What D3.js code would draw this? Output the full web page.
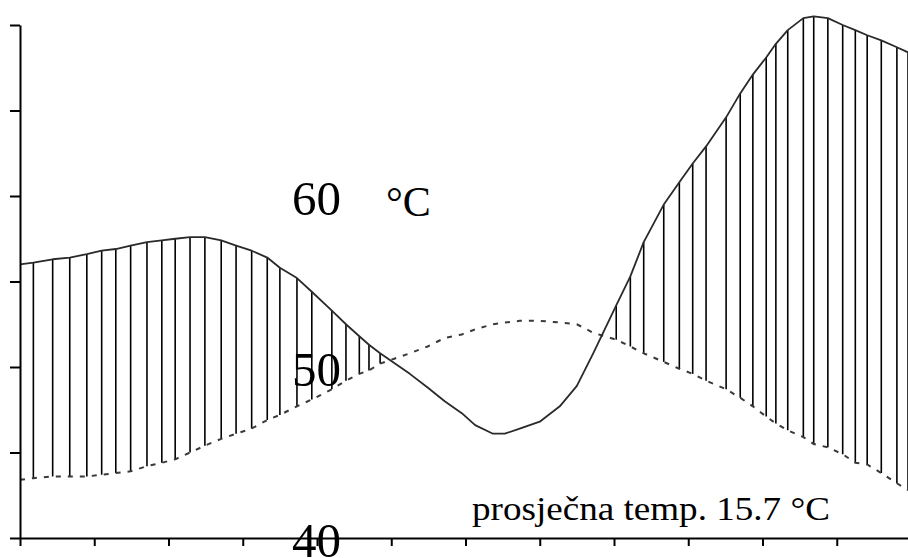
<!DOCTYPE html>
<html>
<head>
<meta charset="utf-8">
<script src="https://cdn.jsdelivr.net/npm/d3@7"></script>
<style>
    body { margin: 0; background: #fff; }
    svg { display: block; }
    .axis path, .axis line { stroke: #000; stroke-width: 2; }
    .serif { font-family: "Liberation Serif", "Times New Roman", serif; fill: #000; }
</style>
</head>
<body>
<div id="TempChart"></div>
<script>
// x positions in months (0 = start of year, 12 = end)
var mjeseci = [0.00, 0.18, 0.44, 0.67, 0.90, 1.10, 1.29, 1.49, 1.71, 1.91,
    2.09, 2.29, 2.49, 2.71, 2.91, 3.12, 3.33, 3.50, 3.73, 3.93,
    4.20, 4.39, 4.57, 4.70, 4.85, 5.05, 5.25, 5.49, 5.72, 5.95,
    6.13, 6.37, 6.53, 6.73, 7.00, 7.27, 7.50, 7.72, 8.03, 8.22,
    8.40, 8.67, 8.88, 9.06, 9.24, 9.51, 9.70, 9.87, 10.05, 10.18,
    10.34, 10.55, 10.69, 10.88, 11.08, 11.25, 11.41, 11.60, 11.81, 11.96];

// measured temperature (solid line)
var temperatura = [56.0, 56.1, 56.3, 56.4, 56.6, 56.8, 56.9, 57.1, 57.3, 57.4,
    57.5, 57.6, 57.6, 57.4, 57.1, 56.8, 56.4, 55.8, 55.2, 54.4,
    53.3, 52.5, 51.8, 51.3, 50.8, 50.2, 49.6, 48.8, 48.0, 47.3,
    46.6, 46.1, 46.1, 46.4, 46.8, 47.7, 48.9, 50.8, 53.6, 55.3,
    57.3, 59.5, 60.8, 61.9, 62.9, 64.6, 66.0, 67.1, 68.1, 68.9,
    69.7, 70.4, 70.5, 70.4, 70.0, 69.7, 69.4, 69.1, 68.7, 68.4];

// average temperature (dashed line)
var prosjek = [43.4, 43.5, 43.6, 43.6, 43.6, 43.7, 43.8, 43.9, 44.2, 44.4,
    44.6, 45.0, 45.4, 45.8, 46.1, 46.4, 46.9, 47.2, 47.7, 48.1,
    48.7, 49.2, 49.6, 49.8, 50.2, 50.5, 50.8, 51.2, 51.7, 51.9,
    52.2, 52.5, 52.6, 52.7, 52.7, 52.6, 52.5, 52.0, 51.6, 51.2,
    50.8, 50.3, 49.9, 49.6, 49.2, 48.7, 48.2, 47.7, 47.1, 46.7,
    46.3, 45.9, 45.5, 45.3, 44.9, 44.4, 44.3, 43.8, 43.2, 42.8];

var yTicks = [40, 45, 50, 55, 60, 65, 70];
var xTicks = [0, 1, 2, 3, 4, 5, 6, 7, 8, 9, 10, 11, 12];
var yOznake = [60, 50, 40];
var jedinica = "°C";
var napomena = "prosječna temp. 15.7 °C";

var width = 908,
    height = 558;

var svg = d3.select("#TempChart")
    .append("svg")
    .attr("width", width)
    .attr("height", height);

// Set the ranges
var x = d3.scaleLinear().domain([0, 12]).range([20, 911]);
var y = d3.scaleLinear().domain([40, 70]).range([538, 25]);

// Hatching between the two lines where the temperature is above average
var hatch = [];
for (var i = 1; i < mjeseci.length; i++) {
    if (temperatura[i] > prosjek[i]) {
        hatch.push({ m: mjeseci[i], t: temperatura[i], p: prosjek[i] });
    }
}

svg.append("g")
    .selectAll("line")
    .data(hatch)
    .enter()
    .append("line")
    .attr("x1", function (d) { return x(d.m); })
    .attr("x2", function (d) { return x(d.m); })
    .attr("y1", function (d) { return y(d.t); })
    .attr("y2", function (d) { return y(d.p); })
    .attr("stroke", "#000")
    .attr("stroke-width", 1.6);

// Define the lines
var tempLine = d3.line()
    .x(function (d, i) { return x(mjeseci[i]); })
    .y(function (d) { return y(d); });

// Average line (dashed)
svg.append("path")
    .attr("d", tempLine(prosjek))
    .attr("fill", "none")
    .attr("stroke", "#3a3a3a")
    .attr("stroke-width", 2)
    .attr("stroke-dasharray", "5,7");

// Temperature line
svg.append("path")
    .attr("d", tempLine(temperatura))
    .attr("fill", "none")
    .attr("stroke", "#2a2a2a")
    .attr("stroke-width", 1.8)
    .attr("stroke-linejoin", "round");

// Add the Y Axis
svg.append("g")
    .attr("class", "axis")
    .attr("transform", "translate(" + x(0) + ",0)")
    .call(d3.axisLeft(y).tickValues(yTicks).tickSize(10).tickSizeOuter(0).tickFormat(""));

// Add the X Axis
svg.append("g")
    .attr("class", "axis")
    .attr("transform", "translate(0," + y(40) + ")")
    .call(d3.axisBottom(x).tickValues(xTicks).tickSize(8).tickSizeOuter(0).tickFormat(""));

// Odd value labels placed inside the plot
svg.append("g")
    .selectAll("text")
    .data(yOznake)
    .enter()
    .append("text")
    .attr("class", "serif")
    .attr("x", 292)
    .attr("y", function (d) { return y(d) + 19; })
    .style("font-size", "49px")
    .text(function (d) { return d; });

svg.append("text")
    .attr("class", "serif")
    .attr("x", 386)
    .attr("y", 216)
    .style("font-size", "42px")
    .text(jedinica);

svg.append("text")
    .attr("class", "serif")
    .attr("x", 472)
    .attr("y", 520)
    .attr("textLength", 358)
    .attr("lengthAdjust", "spacingAndGlyphs")
    .style("font-size", "33px")
    .text(napomena);
</script>
</body>
</html>
